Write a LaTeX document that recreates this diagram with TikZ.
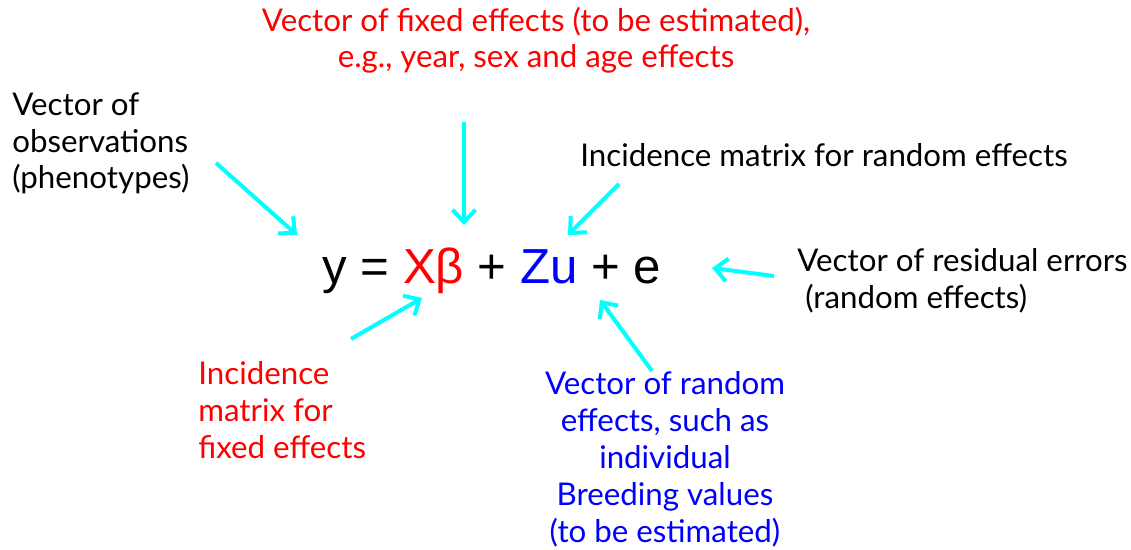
\documentclass[tikz,border=0pt]{standalone}
\usepackage{fontspec}
\setmainfont{Lato}
\newfontfamily\eqfont{Liberation Sans}
\usetikzlibrary{arrows.meta}
\definecolor{ptr}{RGB}{0,255,255}
\definecolor{fixred}{RGB}{255,0,0}
\definecolor{randblue}{RGB}{0,0,255}
\begin{document}
\begin{tikzpicture}[x=0.02cm,y=-0.02cm,
    lbl/.style={font=\fontsize{17.8}{21}\selectfont, inner sep=0pt},
    pointer/.style={draw=ptr, line width=2.3pt, -{Straight Barb[length=7pt,width=13pt]}}]
    \useasboundingbox (0,0) rectangle (1131,550);
    % ---- equation ----
    \node[inner sep=0pt, anchor=base west, font=\eqfont\fontsize{28}{32}\selectfont] (eq) at (322,283)
        {y = \textcolor{fixred}{Xβ} + \textcolor{randblue}{Zu} + e};
    % ---- labels (base = last line) ----
    \node[lbl, anchor=base west, align=left] (obs) at (12,189) {Vector of\\observations\\(phenotypes)};
    \node[lbl, anchor=base, align=center, text=fixred] (fixvec) at (536,68)
        {Vector of fixed effects (to be estimated),\\e.g., year, sex and age effects};
    \node[lbl, anchor=base west] (Zinc) at (580,167) {Incidence matrix for random effects};
    \node[lbl, anchor=base west, align=left] (resid) at (797,308) {Vector of residual errors\\\ (random effects)};
    \node[lbl, anchor=base west, align=left, text=fixred] (Xinc) at (198,458) {Incidence\\matrix for\\fixed effects};
    \node[lbl, anchor=base, align=center, text=randblue] (randvec) at (665,542)
        {Vector of random\\effects, such as\\individual\\Breeding values\\(to be estimated)};
    % ---- arrows ----
    \coordinate (obs-s) at (216,163);   \coordinate (obs-e) at (297,235);
    \coordinate (fix-s) at (464,122);   \coordinate (fix-e) at (464,225);
    \coordinate (Zinc-s) at (619,184);  \coordinate (Zinc-e) at (568,235);
    \coordinate (res-s) at (774,276);   \coordinate (res-e) at (712,268);
    \coordinate (rand-s) at (652,371);  \coordinate (rand-e) at (600,300);
    \coordinate (Xinc-s) at (351,339);  \coordinate (Xinc-e) at (422,298);
    \foreach \p in {obs,fix,Zinc,res,rand,Xinc} {
        \draw[pointer] (\p-s) -- (\p-e);
    }
\end{tikzpicture}
\end{document}
